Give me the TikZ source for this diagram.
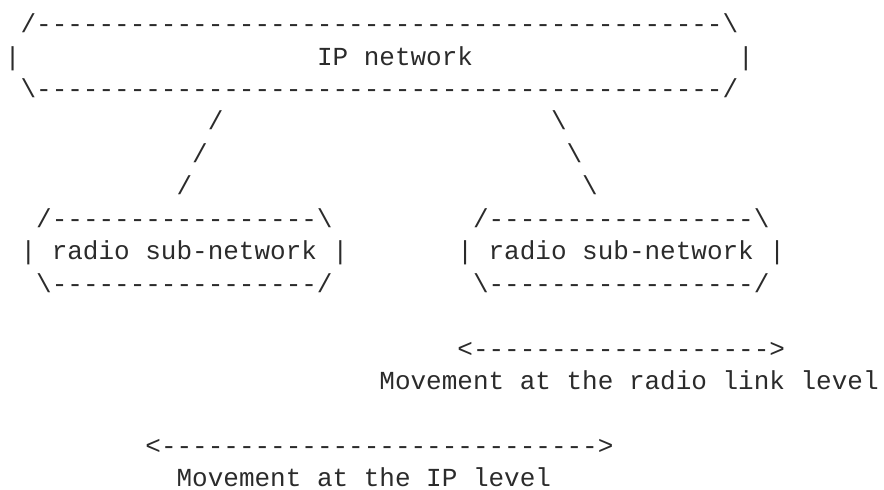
\documentclass[tikz,border=0pt]{standalone}
\usepackage{fontspec}
\setmonofont{Liberation Mono}
\definecolor{txt}{HTML}{2B2B2B}
\ExplSyntaxOn
\cs_new:Npn \dashrun #1 {\prg_replicate:nn{#1}{-}}
\ExplSyntaxOff
\tikzset{
  asc/.style={anchor=base west, inner sep=0pt, outer sep=0pt, text=txt,
    font=\ttfamily\fontsize{26}{32}\selectfont},
  cell/.style 2 args={at={({5+#1*15.6},{65+(#2-2)*32.45})}}
}
\begin{document}
\begin{tikzpicture}[x=1pt,y=-1pt]
\useasboundingbox (0,0) rectangle (884,490);
% IP network cloud
\node[asc, cell={1}{1}] (iptop) {/\dashrun{44}\textbackslash};
\node[asc, cell={0}{2}] (ipl) {|};
\node[asc, cell={20}{2}] (iplabel) {IP network};
\node[asc, cell={47}{2}] (ipr) {|};
\node[asc, cell={1}{3}] (ipbot) {\textbackslash\dashrun{44}/};
% links
\node[asc, cell={13}{4}] (la) {/};
\node[asc, cell={12}{5}] (lb) {/};
\node[asc, cell={11}{6}] (lc) {/};
\node[asc, cell={35}{4}] (ra) {\textbackslash};
\node[asc, cell={36}{5}] (rb) {\textbackslash};
\node[asc, cell={37}{6}] (rc) {\textbackslash};
% radio sub-networks
\node[asc, cell={2}{7}] (r1top) {/\dashrun{17}\textbackslash};
\node[asc, cell={1}{8}] (r1) {| radio sub-network |};
\node[asc, cell={2}{9}] (r1bot) {\textbackslash\dashrun{17}/};
\node[asc, cell={30}{7}] (r2top) {/\dashrun{17}\textbackslash};
\node[asc, cell={29}{8}] (r2) {| radio sub-network |};
\node[asc, cell={30}{9}] (r2bot) {\textbackslash\dashrun{17}/};
% movements
\node[asc, cell={29}{11}] (radioarrow) {<\dashrun{19}>};
\node[asc, cell={24}{12}] (radiotext) {Movement at the radio link level};
\node[asc, cell={9}{14}] (iparrow) {<\dashrun{28}>};
\node[asc, cell={11}{15}] (iptext) {Movement at the IP level};
\end{tikzpicture}
\end{document}
